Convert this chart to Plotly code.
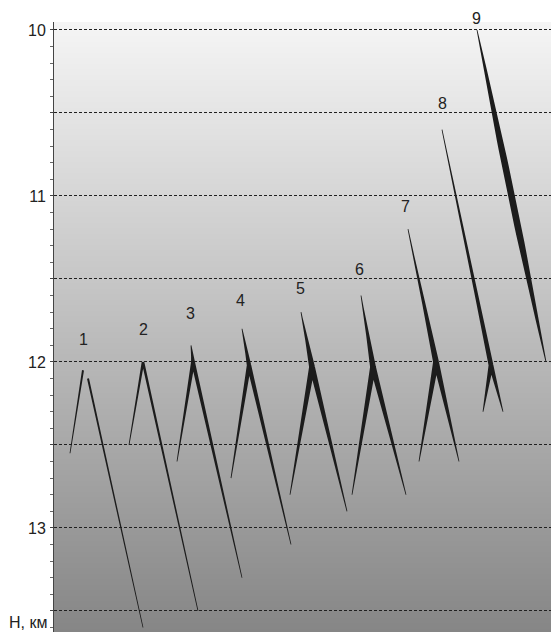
import base64
import struct
import zlib

import numpy as np
import plotly.graph_objects as go

# ---------------- data ----------------
labels = ["1", "2", "3", "4", "5", "6", "7", "8", "9"]
# upper (starting) point of each structure, km / arbitrary horizontal units
top_x = [None, None, 137, 188, 247, 307, 354, 388, 423]
top_y = [None, None, 11.9, 11.8, 11.7, 11.6, 11.2, 10.6, 10.0]
# apex / junction point
peak_x = [29, 89, 139, 195, 258, 319, 382, 437, 492]
peak_y = [12.05, 12.0, 12.0, 12.02, 12.03, 12.03, 12.0, 12.02, 12.0]
# lower-left end
left_x = [16, 75, 123, 177, 236, 298, 365, 429, None]
left_y = [12.55, 12.5, 12.6, 12.7, 12.8, 12.8, 12.6, 12.3, None]
# start of right branch (if detached from apex)
rstart_x = [34, None, None, None, None, None, None, None, None]
rstart_y = [12.10, None, None, None, None, None, None, None, None]
# lower-right end
right_x = [89, 144, 188, 237, 293, 352, 405, 449, None]
right_y = [13.6, 13.5, 13.3, 13.1, 12.9, 12.8, 12.6, 12.3, None]
# label positions
label_x = [29, 89, 136, 186, 246, 305, 351, 388, 422]
label_y = [11.867, 11.807, 11.711, 11.627, 11.56, 11.446, 11.066, 10.44, 9.928]

y_ticks = [10, 10.5, 11, 11.5, 12, 12.5, 13, 13.5]
y_ticktext = ["10", "", "11", "", "12", "", "13", ""]

# ---------------- style / layout ----------------
W, H = 551, 632
ML, MR, MT, MB = 54, 0, 22, 0
XR = [0, 497]
YR = [13.627, 9.952]
max_w = [2.0, 2.6, 3.9, 4.4, 5.8, 5.8, 5.8, 4.8, 7.0]
thin = 0.8
ink = "#1c1c1c"
FONT = "Liberation Sans, Arial"

pw, ph = W - ML - MR, H - MT - MB
sx = pw / (XR[1] - XR[0])
sy = ph / (YR[0] - YR[1])


def wedge(x0, y0, x1, y1, wfun, n=40):
    t = np.linspace(0, 1, n)
    xs = x0 + (x1 - x0) * t
    ys = y0 + (y1 - y0) * t
    dx, dy = (x1 - x0) * sx, (y1 - y0) * sy
    L = np.hypot(dx, dy)
    nx, ny = -dy / L, dx / L
    w = wfun(t) / 2
    ax = xs + nx * w / sx
    ay = ys + ny * w / sy
    bx = xs - nx * w / sx
    by = ys - ny * w / sy
    px = np.concatenate([ax, bx[::-1], ax[:1]])
    py = np.concatenate([ay, by[::-1], ay[:1]])
    return px, py


fig = go.Figure()

polys_x, polys_y = [], []
for i in range(len(labels)):
    wm = max_w[i]
    if top_x[i] is not None:
        if left_x[i] is None:
            f = lambda t, wm=wm: thin + (wm - thin) * np.sin(np.pi * t)
        else:
            f = lambda t, wm=wm: thin + (wm - thin) * t ** 1.4
        px, py = wedge(top_x[i], top_y[i], peak_x[i], peak_y[i], f)
        polys_x += list(px) + [None]
        polys_y += list(py) + [None]
    if left_x[i] is not None:
        f = lambda t, wm=wm: wm + (thin - wm) * t
        px, py = wedge(peak_x[i], peak_y[i], left_x[i], left_y[i], f)
        polys_x += list(px) + [None]
        polys_y += list(py) + [None]
    if right_x[i] is not None:
        sxp = rstart_x[i] if rstart_x[i] is not None else peak_x[i]
        syp = rstart_y[i] if rstart_y[i] is not None else peak_y[i]
        f = lambda t, wm=wm: wm + (thin - wm) * t
        px, py = wedge(sxp, syp, right_x[i], right_y[i], f)
        polys_x += list(px) + [None]
        polys_y += list(py) + [None]

fig.add_trace(go.Scatter(
    x=polys_x, y=polys_y, mode="lines", fill="toself",
    fillcolor=ink, line=dict(width=0, color=ink),
    hoverinfo="skip", showlegend=False,
))


# ---- background gradient as an inline PNG (below the grid) ----
def gradient_png(h, c_top, c_bot, w=4):
    rows = b""
    for r in range(h):
        c = int(round(c_top + (c_bot - c_top) * r / (h - 1)))
        rows += b"\x00" + bytes([c]) * w
    def chunk(tag, data):
        return (struct.pack(">I", len(data)) + tag + data
                + struct.pack(">I", zlib.crc32(tag + data) & 0xFFFFFFFF))
    png = b"\x89PNG\r\n\x1a\n"
    png += chunk(b"IHDR", struct.pack(">IIBBBBB", w, h, 8, 0, 0, 0, 0))
    png += chunk(b"IDAT", zlib.compress(rows, 9))
    png += chunk(b"IEND", b"")
    return "data:image/png;base64," + base64.b64encode(png).decode()


bg = gradient_png(ph, 245, 134)
fig.add_layout_image(dict(
    source=bg, xref="paper", yref="paper", x=0, y=1, sizex=1, sizey=1,
    xanchor="left", yanchor="top", sizing="stretch", layer="below",
))

annotations = []
for i, lab in enumerate(labels):
    if label_y[i] < min(YR):
        annotations.append(dict(
            x=label_x[i], y=min(YR), text=lab, showarrow=False,
            xanchor="center", yanchor="middle",
            yshift=(min(YR) - label_y[i]) * sy,
            font=dict(family=FONT, size=16, color="#222"),
        ))
    else:
        annotations.append(dict(
            x=label_x[i], y=label_y[i], text=lab, showarrow=False,
            xanchor="center", yanchor="middle",
            font=dict(family=FONT, size=16, color="#222"),
        ))
annotations.append(dict(
    x=-(ML - 7) / pw, y=0.0, xref="paper", yref="paper", text="Н, км",
    showarrow=False, xanchor="left", yanchor="bottom", yshift=-1,
    font=dict(family=FONT, size=16, color="#222"),
))

fig.update_layout(
    width=W, height=H,
    margin=dict(l=ML, r=MR, t=MT, b=MB, pad=0),
    paper_bgcolor="white", plot_bgcolor="rgba(0,0,0,0)",
    annotations=annotations,
    showlegend=False,
    xaxis=dict(range=XR, visible=False, showgrid=False, zeroline=False, fixedrange=True),
    yaxis=dict(
        range=YR, autorange=False, zeroline=False,
        tickmode="array", tickvals=y_ticks, ticktext=y_ticktext,
        ticks="outside", ticklen=3, tickcolor="#444", tickwidth=1,
        showline=True, linecolor="#444", linewidth=1,
        showgrid=True, gridcolor="#202020", gridwidth=1, griddash="3px,2px",
        minor=dict(dtick=0.1, ticks="outside", ticklen=3, tickcolor="#666", showgrid=False),
        tickfont=dict(family=FONT, size=16, color="#222"),
        ticklabelstandoff=1,
    ),
)

fig.write_html("out.html")
